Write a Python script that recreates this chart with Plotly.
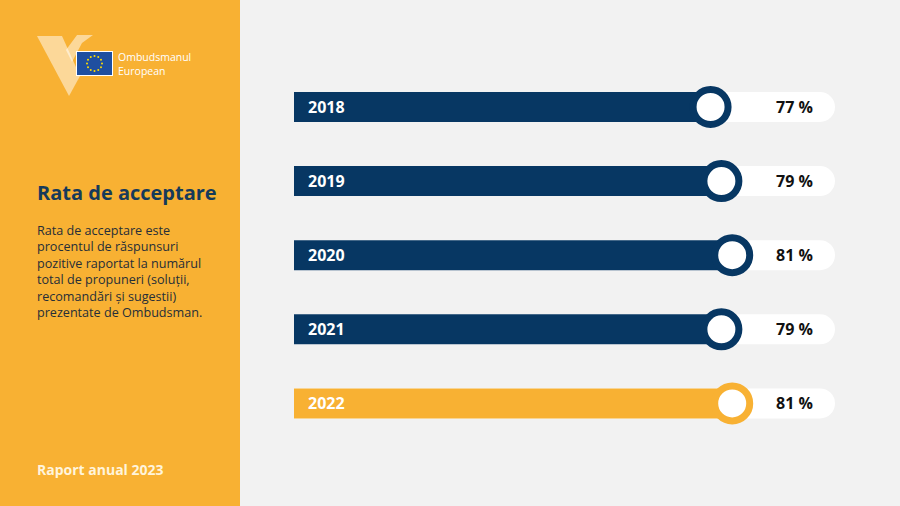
import math
import plotly.graph_objects as go

# ---------------- data ----------------
years = ["2018", "2019", "2020", "2021", "2022"]
rates = [77, 79, 81, 79, 81]
bar_colors = ["#073763", "#073763", "#073763", "#073763", "#F8B133"]
track_max = [100, 100, 100, 100, 100]
pct_labels = ["77 %", "79 %", "81 %", "79 %", "81 %"]

title_text = "Rata de acceptare"
desc_lines = [
    "Rata de acceptare este",
    "procentul de răspunsuri",
    "pozitive raportat la numărul",
    "total de propuneri (soluții,",
    "recomandări și sugestii)",
    "prezentate de Ombudsman.",
]
footer_text = "Raport anual 2023"
logo_lines = ["Ombudsmanul", "European"]

# ---------------- geometry helpers ----------------
W, H = 900, 506
X0_PX, X100_PX = 294, 835
S = (X100_PX - X0_PX) / 100.0
ROW0_PX, ROW_STEP = 107, 74.1
BAR_PX = 30

def px(x):
    return x / W

def py(y):
    return 1 - y / H

ORANGE = "#F8B133"
NAVY = "#073763"
BG = "#F2F2F2"
FONT = "Open Sans"

fig = go.Figure()

# white track
fig.add_trace(go.Bar(
    x=track_max, y=years, orientation="h",
    marker=dict(color="white", cornerradius=15, line=dict(width=0)),
    width=BAR_PX / ROW_STEP, hoverinfo="skip", showlegend=False,
))
# value bars
fig.add_trace(go.Bar(
    x=rates, y=years, orientation="h",
    marker=dict(color=bar_colors, line=dict(width=0)),
    width=BAR_PX / ROW_STEP, showlegend=False,
))
# ring markers
fig.add_trace(go.Scatter(
    x=rates, y=years, mode="markers",
    marker=dict(size=35, color="white", line=dict(color=bar_colors, width=7)),
    showlegend=False, cliponaxis=False,
))

annotations = []
for i, (yr, lab) in enumerate(zip(years, pct_labels)):
    annotations.append(dict(
        x=0, y=i, xref="x", yref="y", text="<b>%s</b>" % yr,
        xanchor="left", yanchor="middle", xshift=12, showarrow=False,
        font=dict(family=FONT, size=16, color="white"),
    ))
    annotations.append(dict(
        x=92.5, y=i, xref="x", yref="y", text="<b>%s</b>" % lab,
        xanchor="center", yanchor="middle", showarrow=False,
        font=dict(family=FONT, size=16, color="#111111"),
    ))

# left panel texts
annotations.append(dict(
    x=px(35), y=py(192), xref="paper", yref="paper", text="<b>%s</b>" % title_text,
    xanchor="left", yanchor="middle", showarrow=False,
    font=dict(family=FONT, size=20, color="#163A5A"),
))
annotations.append(dict(
    x=px(35), y=py(220), xref="paper", yref="paper", text="<br>".join(desc_lines),
    xanchor="left", yanchor="top", align="left", showarrow=False,
    font=dict(family=FONT, size=12.6, color="#262E38"),
))
annotations.append(dict(
    x=px(35), y=py(469), xref="paper", yref="paper", text="<b>%s</b>" % footer_text,
    xanchor="left", yanchor="middle", showarrow=False,
    font=dict(family=FONT, size=14, color="#FFF4DC"),
))
annotations.append(dict(
    x=px(116), y=py(64), xref="paper", yref="paper", text="<br>".join(logo_lines),
    xanchor="left", yanchor="middle", align="left", showarrow=False,
    font=dict(family=FONT, size=10.5, color="white"),
))

shapes = []
# orange panel
shapes.append(dict(type="rect", xref="paper", yref="paper",
                   x0=0, x1=px(240), y0=0, y1=1, fillcolor=ORANGE,
                   line=dict(width=0), layer="below"))

def path(points, close=True):
    s = "M " + " L ".join("%.4f,%.4f" % (px(a), py(b)) for a, b in points)
    return s + (" Z" if close else "")

# stylised "Y" logo
shapes.append(dict(type="path", xref="paper", yref="paper",
                   path=path([(37, 36), (62, 36), (80, 76), (69, 96)]),
                   fillcolor="rgba(255,255,255,0.5)", line=dict(width=0)))
shapes.append(dict(type="path", xref="paper", yref="paper",
                   path=path([(77, 35), (93, 35), (82, 43), (72, 62), (66, 50)]),
                   fillcolor="rgba(255,255,255,0.5)", line=dict(width=0)))
# EU flag
shapes.append(dict(type="rect", xref="paper", yref="paper",
                   x0=px(76), x1=px(113), y0=py(76), y1=py(51),
                   fillcolor="white", line=dict(width=0)))
shapes.append(dict(type="rect", xref="paper", yref="paper",
                   x0=px(77), x1=px(112), y0=py(75), y1=py(52),
                   fillcolor="#1F4FA0", line=dict(width=0)))
for k in range(12):
    a = 2 * math.pi * k / 12
    cx, cy = 94.5 + 7.5 * math.cos(a), 63.5 + 7.5 * math.sin(a)
    shapes.append(dict(type="circle", xref="paper", yref="paper",
                       x0=px(cx - 1), x1=px(cx + 1), y0=py(cy + 1), y1=py(cy - 1),
                       fillcolor="#FFDD00", line=dict(width=0)))

fig.update_layout(
    width=W, height=H,
    margin=dict(l=0, r=0, t=0, b=0, pad=0),
    paper_bgcolor=BG, plot_bgcolor=BG,
    barmode="overlay",
    xaxis=dict(range=[-X0_PX / S, (W - X0_PX) / S], visible=False, fixedrange=True),
    yaxis=dict(type="category", categoryorder="array", categoryarray=years,
               range=[(H - ROW0_PX) / ROW_STEP, -ROW0_PX / ROW_STEP],
               visible=False, fixedrange=True),
    shapes=shapes, annotations=annotations,
    font=dict(family=FONT),
    showlegend=False,
)

fig.write_html("out.html", config={"displayModeBar": False},
               post_script="document.body.style.margin='0px';document.body.style.overflow='hidden';")
